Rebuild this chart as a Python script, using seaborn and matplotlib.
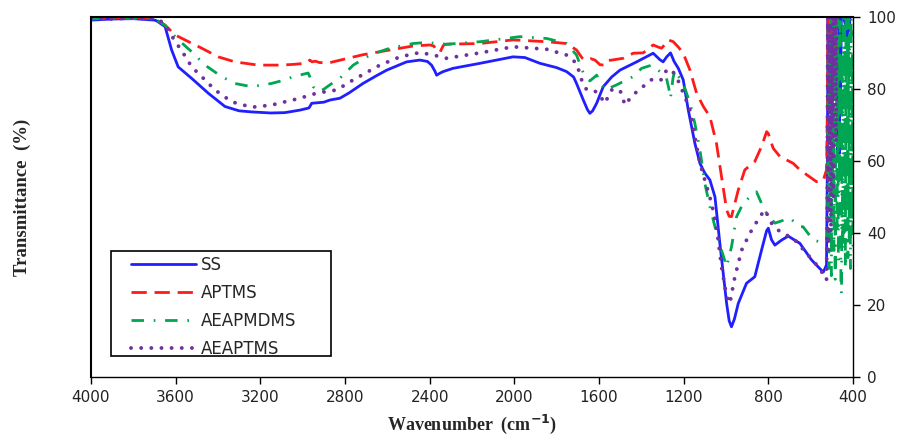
import matplotlib
matplotlib.use("Agg")
import matplotlib.pyplot as plt
from matplotlib.patches import Rectangle
import pandas as pd
import seaborn as sns

# FTIR spectra (wavenumber in cm-1, transmittance in %)
ss_wn = [4000, 3900, 3800, 3750, 3700, 3690, 3650, 3619, 3588, 3524, 3446, 3367, 3300, 3241, 3150,
         3084, 3013, 2970, 2957, 2900, 2871, 2824, 2780, 2715, 2650, 2603, 2509, 2446, 2410, 2391,
         2375, 2367, 2350, 2336, 2290, 2162, 2006, 1950, 1879, 1800, 1753, 1720, 1706, 1674, 1655,
         1643, 1630, 1611, 1580, 1540, 1501, 1422, 1344, 1312, 1297, 1280, 1262, 1245, 1225, 1202,
         1178, 1147, 1123, 1100, 1076, 1052, 1029, 997, 985, 974, 960, 942, 903, 864, 832, 808, 800,
         785, 769, 737, 706, 651, 596, 557, 540, 525,
         521, 518, 515, 512, 509, 506, 500, 494, 488, 482, 476, 473, 470, 467, 464, 461, 458, 455,
         446, 437, 431, 428, 425, 419, 413, 407, 400]
ss_t = [99.0, 99.3, 99.4, 99.2, 99.0, 98.8, 97.2, 90.7, 86.0, 82.8, 78.7, 75.0, 73.8, 73.5, 73.2,
        73.3, 74.0, 74.6, 75.9, 76.2, 76.8, 77.3, 78.8, 81.4, 83.6, 85.1, 87.4, 87.9, 87.5, 86.5,
        84.8, 83.7, 84.3, 84.7, 85.6, 87.0, 88.8, 88.6, 87.0, 85.8, 84.7, 83.2, 81.4, 76.8, 74.2,
        73.1, 73.8, 75.9, 80.5, 83.2, 85.1, 87.4, 89.8, 88.0, 87.4, 88.8, 89.9, 87.5, 85.6, 82.4,
        74.0, 64.8, 59.2, 56.5, 54.6, 49.9, 37.0, 20.3, 15.5, 13.8, 16.0, 20.3, 25.9, 27.7, 35.1, 40.5, 41.2,
        38.0, 36.5, 37.9, 39.0, 37.0, 32.4, 30.0, 29.0, 31.0,
        60, 100, 85, 100, 97, 100, 98, 100, 90, 100, 100, 60, 75, 100, 62, 100, 80, 100,
        100, 98, 100, 93, 100, 96, 100, 100, 100]

aptms_wn = [4000, 3900, 3800, 3750, 3700, 3690, 3650, 3603, 3556, 3477, 3399, 3320, 3210, 3107, 3045,
            2985, 2966, 2955, 2940, 2920, 2871, 2800, 2714, 2588, 2479, 2399, 2380, 2367, 2351, 2335,
            2320, 2162, 2006, 1847, 1753, 1706, 1680, 1666, 1640, 1619, 1595, 1572, 1555, 1540, 1485,
            1438, 1391, 1344, 1320, 1304, 1285, 1273, 1249, 1225, 1202, 1170, 1139, 1107, 1076, 1045,
            1021, 997, 985, 974, 942, 911, 864, 832, 808, 800, 777, 745, 682, 651, 627, 572, 541, 525,
            521, 518, 515, 512, 509, 506, 503, 500, 497, 494, 491, 488, 485, 482, 479, 476, 440, 400]
aptms_t = [99.6, 99.5, 99.8, 99.5, 99.4, 99.2, 97.6, 94.9, 93.5, 91.2, 88.8, 87.4, 86.5, 86.5, 86.7,
           87.0, 87.9, 87.4, 87.6, 87.2, 87.2, 88.2, 89.4, 90.7, 91.8, 92.1, 91.8, 90.4, 90.1, 92.0,
           92.3, 92.5, 93.5, 93.0, 92.5, 90.7, 88.5, 87.9, 88.3, 87.9, 86.6, 86.5, 87.8, 87.9, 88.4,
           89.8, 89.9, 92.1, 91.5, 91.2, 92.5, 93.5, 93.0, 91.5, 89.8, 85.1, 78.7, 75.0, 72.2, 64.8,
           55.5, 46.3, 44.5, 44.4, 51.8, 57.4, 59.7, 63.9, 68.0, 67.5, 63.4, 61.1, 59.2, 57.4, 56.4, 54.1, 54.4, 57.4,
           75, 100, 82, 100, 88, 100, 78, 100, 92, 100, 85, 100, 80, 100, 95, 100, 100, 100]

aeapmdms_wn = [4000, 3900, 3800, 3750, 3700, 3690, 3650, 3595, 3524, 3461, 3383, 3320, 3241, 3147, 3084,
               3044, 2974, 2960, 2950, 2926, 2900, 2879, 2816, 2761, 2682, 2588, 2478, 2414, 2367, 2320,
               2162, 1974, 1847, 1753, 1706, 1674, 1643, 1611, 1590, 1572, 1517, 1470, 1438, 1399, 1351,
               1312, 1281, 1270, 1262, 1250, 1241, 1220, 1202, 1170, 1147, 1123, 1100, 1076, 1052, 1021,
               997, 974, 950, 919, 887, 856, 832, 808, 769, 698, 651, 636, 588, 541, 525,
               520, 517, 514, 511, 508, 505, 502, 499, 496, 493, 490, 487, 484, 481, 478, 475, 472, 469,
               466, 463, 460, 457, 454, 451, 448, 445, 442, 439, 436, 433, 430, 427, 424, 421, 418, 415,
               412, 409, 406, 403, 400]
aeapmdms_t = [99.3, 99.6, 99.4, 99.7, 99.3, 99.0, 97.6, 93.9, 90.2, 86.5, 83.3, 81.4, 80.5, 81.4, 82.4,
              83.3, 84.3, 82.5, 80.5, 79.1, 79.8, 80.7, 83.3, 86.5, 89.3, 91.2, 92.5, 92.8, 92.5, 92.3,
              93.0, 94.4, 93.9, 92.5, 89.3, 84.3, 82.1, 83.7, 81.5, 79.6, 81.0, 82.4, 83.3, 85.6, 86.5,
              84.7, 82.8, 80.0, 77.3, 83.0, 85.1, 83.0, 81.4, 75.9, 70.3, 62.9, 53.7, 47.2, 41.6, 35.1,
              30.5, 36.0, 44.4, 48.1, 49.9, 51.3, 48.1, 45.3, 42.6, 44.0, 41.6, 41.6, 37.9, 37.2, 37.5,
              40, 100, 30, 95, 45, 100, 28, 90, 50, 100, 35, 98, 27, 85, 100, 40, 100, 32,
              95, 55, 100, 25, 23, 90, 35, 100, 40, 97, 30, 100, 45, 92, 33, 100, 38, 95,
              30, 100, 42, 90, 35]

aeaptms_wn = [4000, 3900, 3800, 3750, 3700, 3680, 3658, 3635, 3611, 3564, 3524, 3477, 3414, 3335, 3241,
              3147, 3084, 3013, 2934, 2839, 2761, 2635, 2540, 2446, 2383, 2320, 2162, 2006, 1847, 1753,
              1706, 1682, 1658, 1611, 1590, 1572, 1555, 1540, 1501, 1477, 1450, 1422, 1344, 1304, 1281,
              1273, 1249, 1234, 1194, 1170, 1147, 1123, 1100, 1068, 1045, 1021, 997, 982, 958, 926, 887,
              840, 816, 785, 745, 698, 682, 619, 557, 525,
              522, 519, 516, 513, 510, 507, 504, 501, 498, 495, 492, 489, 486, 483, 480, 477, 440, 400]
aeaptms_t = [99.5, 99.3, 99.6, 99.4, 99.5, 99.2, 98.1, 96.3, 93.9, 89.8, 86.0, 83.3, 79.6, 76.3, 74.8,
             75.4, 76.3, 77.3, 78.7, 79.6, 82.4, 86.5, 88.8, 90.0, 89.3, 88.4, 89.9, 91.6, 90.9, 89.3,
             87.0, 82.4, 79.6, 79.1, 77.5, 75.9, 78.0, 79.6, 79.6, 75.4, 77.5, 79.1, 82.8, 82.4, 85.1,
             84.3, 84.5, 83.3, 77.7, 74.0, 66.6, 59.2, 54.6, 48.1, 41.6, 30.5, 22.2, 20.3, 27.7, 35.1, 39.8,
             44.4, 46.3, 42.6, 40.2, 38.8, 38.4, 34.2, 30.0, 26.8,
             45, 100, 35, 98, 60, 100, 40, 95, 70, 100, 50, 100, 85, 100, 65, 100, 100, 100]

series = [
    ("SS", ss_wn, ss_t, "#1f1fff", "-"),
    ("APTMS", aptms_wn, aptms_t, "#ff1a1a", (0, (5.5, 2.8))),
    ("AEAPMDMS", aeapmdms_wn, aeapmdms_t, "#00a651", (0, (4.5, 3.5, 0.6, 3.5))),
    ("AEAPTMS", aeaptms_wn, aeaptms_t, "#7030a0", (0, (0.01, 2.6))),
]

sns.set_theme(style="ticks")
plt.rcParams["font.family"] = ["DejaVu Sans"]

fig = plt.figure(figsize=(9.08, 4.38), dpi=100)
ax = fig.add_axes([0.1002, 0.1404, 0.8392, 0.8219])

for name, wn, t, color, ls in series:
    df = pd.DataFrame({"wn": wn, "T": t})
    sns.lineplot(data=df, x="wn", y="T", ax=ax, color=color, linestyle=ls,
                 linewidth=2.0 if name != "AEAPTMS" else 2.8,
                 sort=False, estimator=None, label=name)

for line in ax.lines:
    line.set_dash_capstyle("round")
    line.set_solid_capstyle("round")
ax.lines[1].set_dash_capstyle("butt")
ax.lines[2].set_dash_capstyle("butt")

ax.set_xlim(4000, 400)
ax.set_ylim(0, 100)
ax.set_xticks(range(4000, 399, -400))
ax.set_yticks(range(0, 101, 20))
ax.yaxis.tick_right()
ax.tick_params(axis="both", direction="out", length=5, width=1, color="black",
               labelsize=11, labelcolor="#222222", pad=5)
ax.tick_params(axis="y", left=False)
for side in ["left", "right", "top", "bottom"]:
    ax.spines[side].set_visible(True)
    ax.spines[side].set_color("black")
    ax.spines[side].set_linewidth(1.0)
ax.spines["top"].set_linewidth(1.5)
ax.spines["left"].set_linewidth(1.5)

ax.set_xlabel("")
ax.set_ylabel("")
fig.text(0.52, 0.004, r"Wavenumber  (cm$^{\mathbf{-1}}$)", ha="center", va="bottom",
         fontsize=13, fontweight="bold", family="Liberation Serif")
fig.text(0.025, 0.55, "Transmittance  (%)", ha="center", va="center", rotation=90,
         fontsize=13.5, fontweight="bold", family="Liberation Serif")

# legend box
ax.add_patch(Rectangle((0.026, 0.057), 0.289, 0.292, transform=ax.transAxes,
                       fill=False, edgecolor="black", linewidth=1.2, zorder=5))
ax.legend(handles=ax.lines[:4], labels=[s[0] for s in series], loc="upper left",
          bbox_to_anchor=(0.053, 0.335), frameon=False, fontsize=12, borderpad=0,
          borderaxespad=0, handlelength=3.9, handletextpad=0.25, labelspacing=0.6)

plt.savefig("out.png", dpi=100)
